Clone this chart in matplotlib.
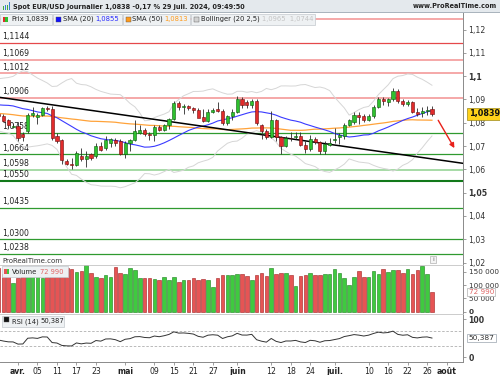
import numpy as np
import pandas as pd
import matplotlib
matplotlib.use('Agg')
import matplotlib.pyplot as plt
from matplotlib.patches import Rectangle

plt.rcParams['font.family'] = ['DejaVu Sans']

# clotures avant le 26 mars (12 janv. -> 25 mars), seulement pour chauffer les indicateurs
hist_close = [1.0950,
              1.0950, 1.0878, 1.0883, 1.0875, 1.0897,
              1.0885, 1.0855, 1.0885, 1.0840, 1.0855,
              1.0832, 1.0845, 1.0818, 1.0874, 1.0788,
              1.0742, 1.0755, 1.0772, 1.0780, 1.0784,
              1.0772, 1.0709, 1.0727, 1.0772, 1.0777,
              1.0777, 1.0808, 1.0820, 1.0823, 1.0820,
              1.0850, 1.0845, 1.0838, 1.0805, 1.0838,
              1.0855, 1.0855, 1.0900, 1.0948, 1.0938,
              1.0927, 1.0925, 1.0950, 1.0880, 1.0890,
              1.0870, 1.0865, 1.0923, 1.0860, 1.0807,
              1.0838]

# bougies journalieres du 26 mars au 29 juil. 2024
opens = [1.0838, 1.0829, 1.0812, 1.0783,
         1.0788, 1.0752, 1.0764, 1.0835, 1.0826, 1.0835, 1.0862, 1.0861, 1.0743, 1.0727,
         1.0635, 1.0624, 1.0620, 1.0657, 1.0643, 1.0665, 1.0656, 1.0700, 1.0692, 1.0712,
         1.0725, 1.0720,
         1.0667, 1.0712, 1.0725, 1.0757, 1.0770, 1.0753, 1.0748, 1.0782, 1.0771, 1.0790,
         1.0818, 1.0885, 1.0866, 1.0870, 1.0864, 1.0855, 1.0824, 1.0808, 1.0847, 1.0858,
         1.0850, 1.0800, 1.0830,
         1.0848, 1.0904, 1.0890, 1.0877, 1.0893, 1.0792, 1.0764, 1.0740, 1.0812, 1.0737,
         1.0702, 1.0736, 1.0738, 1.0745, 1.0706, 1.0688, 1.0732, 1.0716, 1.0680, 1.0706,
         1.0725, 1.0738, 1.0742, 1.0790, 1.0803, 1.0835, 1.0830, 1.0812, 1.0830, 1.0868,
         1.0903, 1.0888, 1.0902, 1.0938, 1.0895, 1.0880, 1.0889, 1.0848, 1.0840, 1.0850,
         1.0861]
highs = [1.0865, 1.0838, 1.0818, 1.0800,
         1.0803, 1.0760, 1.0840, 1.0866, 1.0842, 1.0868, 1.0874, 1.0870, 1.0756, 1.0732,
         1.0645, 1.0650, 1.0680, 1.0690, 1.0680, 1.0672, 1.0712, 1.0716, 1.0743, 1.0735,
         1.0735, 1.0730,
         1.0720, 1.0730, 1.0812, 1.0790, 1.0778, 1.0760, 1.0790, 1.0790, 1.0795, 1.0820,
         1.0895, 1.0895, 1.0880, 1.0878, 1.0868, 1.0862, 1.0860, 1.0860, 1.0865, 1.0890,
         1.0858, 1.0835, 1.0860,
         1.0916, 1.0912, 1.0898, 1.0902, 1.0900, 1.0795, 1.0772, 1.0852, 1.0818, 1.0742,
         1.0745, 1.0761, 1.0760, 1.0761, 1.0720, 1.0748, 1.0740, 1.0720, 1.0720, 1.0735,
         1.0776, 1.0755, 1.0797, 1.0816, 1.0845, 1.0845, 1.0838, 1.0836, 1.0875, 1.0910,
         1.0910, 1.0905, 1.0948, 1.0945, 1.0902, 1.0896, 1.0894, 1.0865, 1.0868, 1.0870,
         1.0871]
lows = [1.0825, 1.0802, 1.0776, 1.0776,
        1.0722, 1.0724, 1.0758, 1.0825, 1.0795, 1.0830, 1.0850, 1.0728, 1.0715, 1.0622,
        1.0618, 1.0601, 1.0615, 1.0637, 1.0610, 1.0640, 1.0650, 1.0680, 1.0684, 1.0695,
        1.0700, 1.0660,
        1.0650, 1.0680, 1.0720, 1.0750, 1.0745, 1.0725, 1.0724, 1.0765, 1.0765, 1.0775,
        1.0810, 1.0855, 1.0838, 1.0855, 1.0840, 1.0825, 1.0802, 1.0802, 1.0840, 1.0845,
        1.0790, 1.0790, 1.0810,
        1.0840, 1.0865, 1.0862, 1.0865, 1.0790, 1.0732, 1.0730, 1.0735, 1.0722, 1.0668,
        1.0697, 1.0720, 1.0730, 1.0700, 1.0670, 1.0680, 1.0710, 1.0666, 1.0665, 1.0700,
        1.0712, 1.0710, 1.0730, 1.0785, 1.0795, 1.0796, 1.0805, 1.0806, 1.0822, 1.0862,
        1.0875, 1.0870, 1.0895, 1.0885, 1.0870, 1.0870, 1.0840, 1.0830, 1.0825, 1.0835,
        1.0830]
closes = [1.0830, 1.0808, 1.0790, 1.0788,
          1.0736, 1.0738, 1.0835, 1.0842, 1.0832, 1.0862, 1.0860, 1.0736, 1.0722, 1.0641,
          1.0624, 1.0620, 1.0672, 1.0643, 1.0657, 1.0650, 1.0700, 1.0685, 1.0727, 1.0730,
          1.0712, 1.0667,
          1.0712, 1.0725, 1.0765, 1.0769, 1.0753, 1.0748, 1.0782, 1.0771, 1.0790, 1.0818,
          1.0885, 1.0866, 1.0870, 1.0864, 1.0855, 1.0822, 1.0808, 1.0847, 1.0856, 1.0850,
          1.0800, 1.0830, 1.0848,
          1.0904, 1.0878, 1.0877, 1.0893, 1.0798, 1.0764, 1.0740, 1.0812, 1.0737, 1.0700,
          1.0733, 1.0733, 1.0745, 1.0706, 1.0688, 1.0730, 1.0718, 1.0680, 1.0708, 1.0712,
          1.0730, 1.0748, 1.0790, 1.0810, 1.0835, 1.0826, 1.0812, 1.0830, 1.0868, 1.0903,
          1.0892, 1.0902, 1.0938, 1.0892, 1.0879, 1.0889, 1.0848, 1.0838, 1.0852, 1.0856,
          1.0839]
volumes = [165000, 140000, 150000, 108000,
           127000, 133000, 145000, 138000, 140000, 125000, 132000, 160000, 135000, 168000,
           163000, 160000, 150000, 152000, 175000, 145000, 132000, 128000, 138000, 132000,
           168000, 145000,
           140000, 163000, 155000, 125000, 128000, 126000, 122000, 118000, 132000, 119000,
           130000, 113000, 119000, 119000, 126000, 119000, 123000, 120000, 94000, 128000,
           138000, 136000, 136000,
           140000, 143000, 135000, 119000, 138000, 144000, 134000, 164000, 142000, 145000,
           145000, 138000, 97000, 134000, 136000, 147000, 136000, 138000, 140000, 142000,
           160000, 145000, 127000, 100000, 130000, 153000, 130000, 130000, 153000, 142000,
           160000, 148000, 155000, 155000, 145000, 160000, 140000, 157000, 173000, 142000,
           72990]
first_day = '2024-03-26'

# niveaux traces a la main
levels = [1.1245, 1.1144, 1.1069, 1.1012, 1.0906, 1.0758, 1.0664, 1.0598, 1.0550, 1.0435, 1.0300, 1.0238]
level_labels = ['', '1,1144', '1,1069', '1,1012', '1,0906', '1,0758', '1,0664', '1,0598', '1,0550',
                '1,0435', '1,0300', '1,0238']
level_colors = ['#f5a8a8', '#e5484a', '#f5a8a8', '#f5a8a8', '#f5a8a8', '#2f9a2f', '#2f9a2f',
                '#a6dba6', '#12791a', '#2f9a2f', '#2f9a2f', '#2f9a2f']
level_widths = [1.4, 0.9, 1.4, 1.4, 1.4, 0.9, 0.9, 1.4, 1.5, 0.9, 0.9, 0.9]

# ligne de tendance et fleche (position en jours ouvres depuis le 1er avril, prix)
trend_x = [-3.7, 91.4]
trend_y = [1.0909, 1.0626]
arrow_x = [86.0, 89.9]
arrow_y = [1.0821, 1.0681]

price_ticks = [1.02, 1.03, 1.04, 1.05, 1.06, 1.07, 1.08, 1.09, 1.10, 1.11, 1.12]
price_tick_labels = ['1,02', '1,03', '1,04', '1,05', '1,06', '1,07', '1,08', '1,09', '1,1', '1,11', '1,12']
vol_ticks = [0, 50000, 100000, 150000]
vol_tick_labels = ['0', '50 000', '100 000', '150 000']

date_ticks = ['2024-04-01', '2024-04-05', '2024-04-11', '2024-04-17', '2024-04-23', '2024-05-01',
              '2024-05-09', '2024-05-15', '2024-05-21', '2024-05-27', '2024-06-03', '2024-06-12',
              '2024-06-18', '2024-06-24', '2024-07-01', '2024-07-10', '2024-07-16', '2024-07-22',
              '2024-07-26', '2024-08-01']
date_labels = ['avr.', '05', '11', '17', '23', 'mai', '09', '15', '21', '27', 'juin', '12', '18',
               '24', 'juil.', '10', '16', '22', '26', 'août']

# --- indicateurs
o = np.array(opens)
h = np.array(highs)
l = np.array(lows)
c = np.array(closes)
n = len(c)
allc = pd.Series(hist_close + closes)
sma20 = allc.rolling(20).mean().values[-n:]
sma50 = allc.rolling(50).mean().values[-n:]
std20 = allc.rolling(20).std(ddof=0).values[-n:]
boll_up = sma20 + 2.5 * std20
boll_dn = sma20 - 2.5 * std20
d = allc.diff()
gain = d.clip(lower=0).ewm(alpha=1 / 14, adjust=False).mean()
loss = (-d.clip(upper=0)).ewm(alpha=1 / 14, adjust=False).mean()
rsi = (100 - 100 / (1 + gain / loss)).values[-n:]

start_pos = -int(np.busday_count(first_day, '2024-04-01'))
pos = np.arange(n) + start_pos
tick_pos = [np.busday_count('2024-04-01', t) for t in date_ticks]

# --- figure
W, H = 500, 375
fig = plt.figure(figsize=(W / 100, H / 100), dpi=100)


def rect(x0, y0, x1, y1):
    return [x0 / W, 1 - y1 / H, (x1 - x0) / W, (y1 - y0) / H]


def px(x, y):
    return x / W, 1 - y / H


xlim = (-18 / 4.87, (463 - 18) / 4.87)
ax_p = fig.add_axes(rect(0, 12, 463, 264))
ax_v = fig.add_axes(rect(0, 265, 463, 313.5))
ax_r = fig.add_axes(rect(0, 314, 463, 362))
for ax in (ax_p, ax_v, ax_r):
    ax.set_xlim(*xlim)
    for s in ('left', 'top', 'bottom'):
        ax.spines[s].set_visible(False)
    ax.spines['right'].set_color('#8a8a8a')
    ax.spines['right'].set_linewidth(0.7)
    ax.yaxis.tick_right()
    ax.tick_params(axis='y', length=2.5, width=0.5, color='#777', labelsize=5.6,
                   labelcolor='#333', pad=1.5)
    ax.tick_params(axis='x', bottom=False, labelbottom=False)
for ax in (ax_v, ax_r):
    ax.spines['top'].set_visible(True)
    ax.spines['top'].set_color('#c4c4c4')
    ax.spines['top'].set_linewidth(0.6)
ax_r.spines['bottom'].set_visible(True)
ax_r.spines['bottom'].set_color('#8a8a8a')
ax_r.spines['bottom'].set_linewidth(0.7)

# prix
ax_p.set_ylim(1.0194, 1.12755)
for lev, lab, col, lw in zip(levels, level_labels, level_colors, level_widths):
    ax_p.axhline(lev, color=col, lw=lw, zorder=1)
    if lab:
        ax_p.annotate(lab, xy=(0, lev), xycoords=ax_p.get_yaxis_transform(), xytext=(1.5, 1.2),
                      textcoords='offset points', fontsize=5.6, color='#222', va='bottom', zorder=2)
ax_p.plot(pos, boll_up, color='#d6d6d6', lw=0.7, zorder=2)
ax_p.plot(pos, boll_dn, color='#d6d6d6', lw=0.7, zorder=2)
ax_p.plot(pos, sma50, color='#ffa33a', lw=0.9, zorder=3)
ax_p.plot(pos, sma20, color='#3a3aff', lw=0.8, zorder=3)
ax_p.plot(trend_x, trend_y, color='black', lw=1.1, zorder=3)

up = c >= o
body_col = np.where(up, '#2ec12e', '#e12b2b')
edge_col = np.where(up, '#0d5a0d', '#6e0c0c')
ax_p.vlines(pos, l, h, color='#2a2a2a', lw=0.6, zorder=4)
ax_p.bar(pos, np.maximum(np.abs(c - o), 0.00012), bottom=np.minimum(o, c), width=0.64,
         color=body_col, edgecolor=edge_col, linewidth=0.4, zorder=5)

ax_p.annotate('', xy=(arrow_x[1], arrow_y[1]), xytext=(arrow_x[0], arrow_y[0]),
              arrowprops=dict(arrowstyle='-|>', color='#e8201a', lw=1.0, mutation_scale=7), zorder=6)

ax_p.set_yticks(price_ticks, price_tick_labels)
for t in ax_p.get_yticklabels():
    if t.get_text() in ('1,1', '1,05'):
        t.set_fontweight('bold')
ax_p.annotate('1,0839', xy=(1, c[-1]), xycoords=ax_p.get_yaxis_transform(), xytext=(4, 0),
              textcoords='offset points', fontsize=5.9, fontweight='bold', color='#111',
              va='center', ha='left', annotation_clip=False,
              bbox=dict(boxstyle='square,pad=0.18', fc='#ffd21a', ec='#9c8a1c', lw=0.5))

# volume
ax_v.set_ylim(-6000, 175000)
vol_col = np.where(up, '#3fca3f', '#e65454')
vol_edge = np.where(up, '#1c7f1c', '#a11f1f')
ax_v.bar(pos, volumes, width=0.74, color=vol_col, edgecolor=vol_edge, linewidth=0.4)
ax_v.set_yticks(vol_ticks, vol_tick_labels)
ax_v.tick_params(axis='y', labelsize=5.2)
ax_v.get_yticklabels()[0].set_fontweight('bold')
ax_v.annotate('72 990', xy=(1, volumes[-1]), xycoords=ax_v.get_yaxis_transform(), xytext=(4, 0),
              textcoords='offset points', fontsize=5.2, color='#e06666', va='center', ha='left',
              annotation_clip=False, zorder=10,
              bbox=dict(boxstyle='square,pad=0.15', fc='white', ec='#b0b0b0', lw=0.5))

# RSI
ax_r.set_ylim(-12.4, 114)
ax_r.axhline(70, color='#b0b0b0', lw=0.6, ls=(0, (3, 2)))
ax_r.axhline(30, color='#b0b0b0', lw=0.6, ls=(0, (3, 2)))
ax_r.plot(pos, rsi, color='#333333', lw=0.7)
ax_r.set_yticks([0, 100], ['0', '100'])
for t in ax_r.get_yticklabels():
    t.set_fontweight('bold')
ax_r.annotate('50,387', xy=(1, 50.387), xycoords=ax_r.get_yaxis_transform(), xytext=(4, 0),
              textcoords='offset points', fontsize=5.4, color='#333', va='center', ha='left',
              annotation_clip=False,
              bbox=dict(boxstyle='square,pad=0.15', fc='white', ec='#9aa4ae', lw=0.5))
ax_r.tick_params(axis='x', bottom=True, labelbottom=True, length=2.5, width=0.5, color='#777',
                 labelsize=5.6, labelcolor='#222', pad=1.2)
ax_r.set_xticks(tick_pos, date_labels)
for t in ax_r.get_xticklabels():
    if not t.get_text().isdigit():
        t.set_fontweight('bold')

# --- en-tete
fig.add_artist(Rectangle(px(0, 12), 1, 12 / H, transform=fig.transFigure, fc='#e4e9ed', ec='none'))
fig.add_artist(Rectangle(px(0, 12.5), 1, 0.6 / H, transform=fig.transFigure, fc='#aab4bd', ec='none'))
for k, (bh, bc) in enumerate(zip([3, 5, 4, 7], ['#3cae3c', '#3c7fd0', '#3cae3c', '#3c7fd0'])):
    fig.add_artist(Rectangle(px(2.5 + k * 2, 9.5), 1.3 / W, bh / H, transform=fig.transFigure,
                             fc=bc, ec='none'))
fig.text(*px(13, 6.5), 'Spot EUR/USD Journalier 1,0838 -0,17 % 29 juil. 2024, 09:49:50',
         fontsize=4.7, fontweight='bold', color='#222', va='center')
fig.text(*px(497, 6.5), 'www.ProRealTime.com', fontsize=4.7, fontweight='bold', color='#222',
         va='center', ha='right')


def legend_box(x0, x1, y0, y1):
    fig.add_artist(Rectangle(px(x0, y1), (x1 - x0) / W, (y1 - y0) / H, transform=fig.transFigure,
                             fc='#eef1f3', ec='#c3c8cd', lw=0.5))


def swatch(x, y, col):
    fig.add_artist(Rectangle(px(x, y + 2.5), 5 / W, 5 / H, transform=fig.transFigure, fc=col,
                             ec='#555', lw=0.3))


ly = 19.2
legend_box(0, 52, 13.5, 25)
fig.add_artist(Rectangle(px(2.5, ly + 2.5), 2.5 / W, 5 / H, transform=fig.transFigure, fc='#e12b2b', ec='none'))
fig.add_artist(Rectangle(px(5, ly + 2.5), 2.5 / W, 5 / H, transform=fig.transFigure, fc='#2ec12e', ec='none'))
fig.text(*px(11, ly), 'Prix', fontsize=4.9, color='#222', va='center')
fig.text(*px(25, ly), '1,0839', fontsize=4.9, color='#222', va='center')
legend_box(53, 122, 13.5, 25)
swatch(55.5, ly, '#1010ff')
fig.text(*px(63, ly), 'SMA (20)', fontsize=4.9, color='#222', va='center')
fig.text(*px(95, ly), '1,0855', fontsize=4.9, color='#2a2aff', va='center')
legend_box(123, 190, 13.5, 25)
swatch(125.5, ly, '#ff9a1a')
fig.text(*px(132, ly), 'SMA (50)', fontsize=4.9, color='#222', va='center')
fig.text(*px(164, ly), '1,0813', fontsize=4.9, color='#ff9a1a', va='center')
legend_box(191, 315, 13.5, 25)
swatch(193.5, ly, '#d2d2d2')
fig.text(*px(201, ly), 'Bollinger (20 2,5)', fontsize=4.9, color='#222', va='center')
fig.text(*px(262, ly), '1,0965  1,0744', fontsize=4.9, color='#c4c4c4', va='center')

# legendes des panneaux bas
fig.text(*px(2, 261), 'ProRealTime.com', fontsize=5.0, color='#333', va='center')
fig.add_artist(Rectangle(px(430, 263), 6 / W, 7 / H, transform=fig.transFigure, fc='#f4f4f4',
                         ec='#a0a0a0', lw=0.4))
fig.text(*px(433, 259.5), 'i', fontsize=4.5, color='#666', va='center', ha='center')

legend_box(2, 68, 266, 277)
fig.add_artist(Rectangle(px(4, 274), 2.5 / W, 5 / H, transform=fig.transFigure, fc='#e65454', ec='none'))
fig.add_artist(Rectangle(px(6.5, 274), 2.5 / W, 5 / H, transform=fig.transFigure, fc='#3fca3f', ec='none'))
fig.text(*px(12, 271.5), 'Volume', fontsize=4.9, color='#222', va='center')
fig.text(*px(40, 271.5), '72 990', fontsize=4.9, color='#e06666', va='center')

legend_box(2, 64, 316, 327)
swatch(4, 319, '#111')
fig.text(*px(12, 321.5), 'RSI (14)', fontsize=4.9, color='#222', va='center')
fig.text(*px(40, 321.5), '50,387', fontsize=4.9, color='#222', va='center')

fig.savefig('out.png', dpi=100)
